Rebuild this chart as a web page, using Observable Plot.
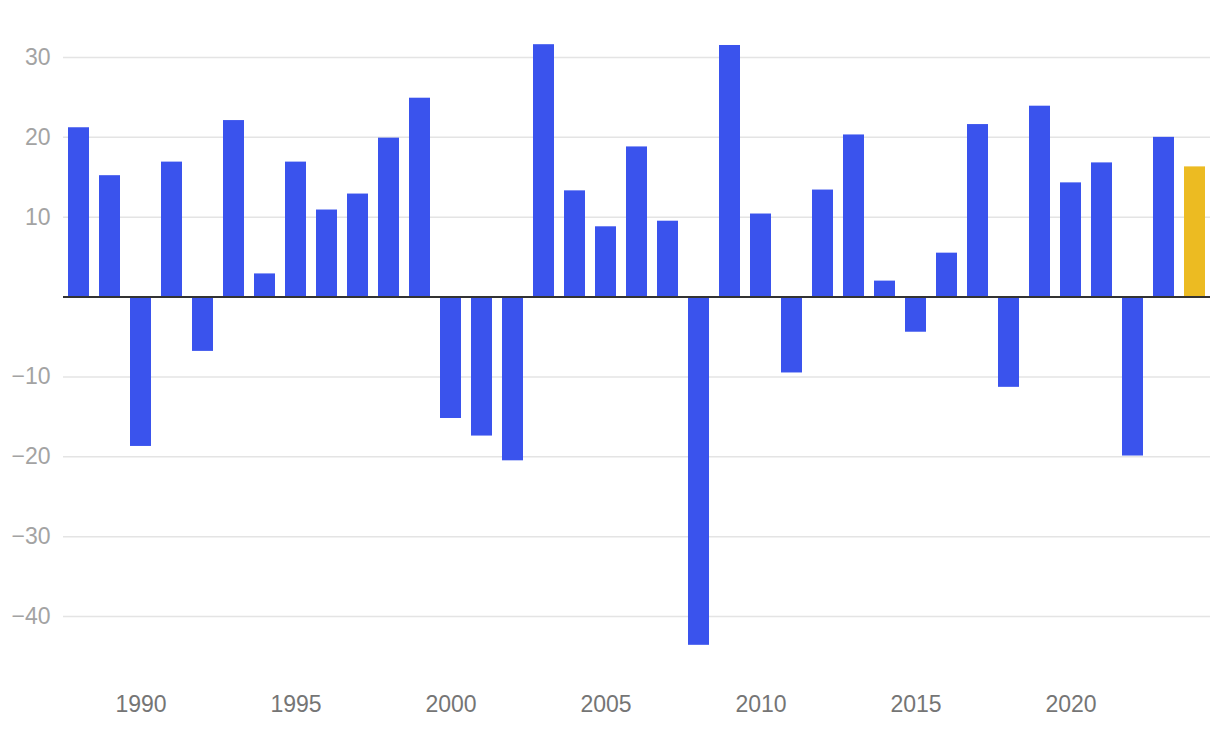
<!DOCTYPE html>
<html>
<head>
<meta charset="utf-8">
<script src="https://cdn.jsdelivr.net/npm/d3@7"></script>
<script src="https://cdn.jsdelivr.net/npm/@observablehq/plot@0.6"></script>
<style>
  html, body { margin: 0; padding: 0; background: #fff; }
  #chart svg { display: block; }
</style>
</head>
<body>
<div id="chart"></div>
<script>
const years = [1988,1989,1990,1991,1992,1993,1994,1995,1996,1997,1998,1999,2000,2001,2002,2003,2004,2005,2006,2007,2008,2009,2010,2011,2012,2013,2014,2015,2016,2017,2018,2019,2020,2021,2022,2023,2024];
const values = [21.2,15.2,-18.7,16.9,-6.8,22.1,2.9,16.9,10.9,12.9,19.9,24.9,-15.2,-17.4,-20.5,31.6,13.3,8.8,18.8,9.5,-43.6,31.5,10.4,-9.5,13.4,20.3,2.0,-4.4,5.5,21.6,-11.3,23.9,14.3,16.8,-19.9,20.0,16.3];
const highlightYear = 2024;
const yTicks = [-40,-30,-20,-10,10,20,30];
const xTicks = [1990,1995,2000,2005,2010,2015,2020];

const data = years.map((y, i) => ({year: y, value: values[i], current: y === highlightYear}));

const fontFamily = '"Helvetica Neue", Helvetica, Arial, "Liberation Sans", sans-serif';

const chart = Plot.plot({
  width: 1220,
  height: 730,
  marginLeft: 63,
  marginRight: 10,
  marginTop: 41,
  marginBottom: 74,
  style: {fontFamily, fontSize: "23px", background: "#fff"},
  x: {type: "band", domain: years, paddingInner: 0.32, paddingOuter: 0.16, label: null},
  y: {domain: [-45, 32], label: null},
  color: {domain: [false, true], range: ["#3a53ed", "#ecbb22"]},
  marks: [
    Plot.ruleY(yTicks, {stroke: "#e4e4e4", strokeWidth: 1.5}),
    Plot.barY(data, {x: "year", y: "value", fill: "current"}),
    Plot.ruleY([0], {stroke: "#333", strokeWidth: 2}),
    Plot.axisY(yTicks, {tickSize: 0, tickPadding: 13, fill: "#a3a3a3", fontSize: 23, tickFormat: d3.format("")}),
    Plot.axisX(xTicks, {tickSize: 0, tickPadding: 39, fill: "#757575", fontSize: 23, tickFormat: d => String(d)})
  ]
});
document.getElementById("chart").appendChild(chart);
</script>
</body>
</html>
